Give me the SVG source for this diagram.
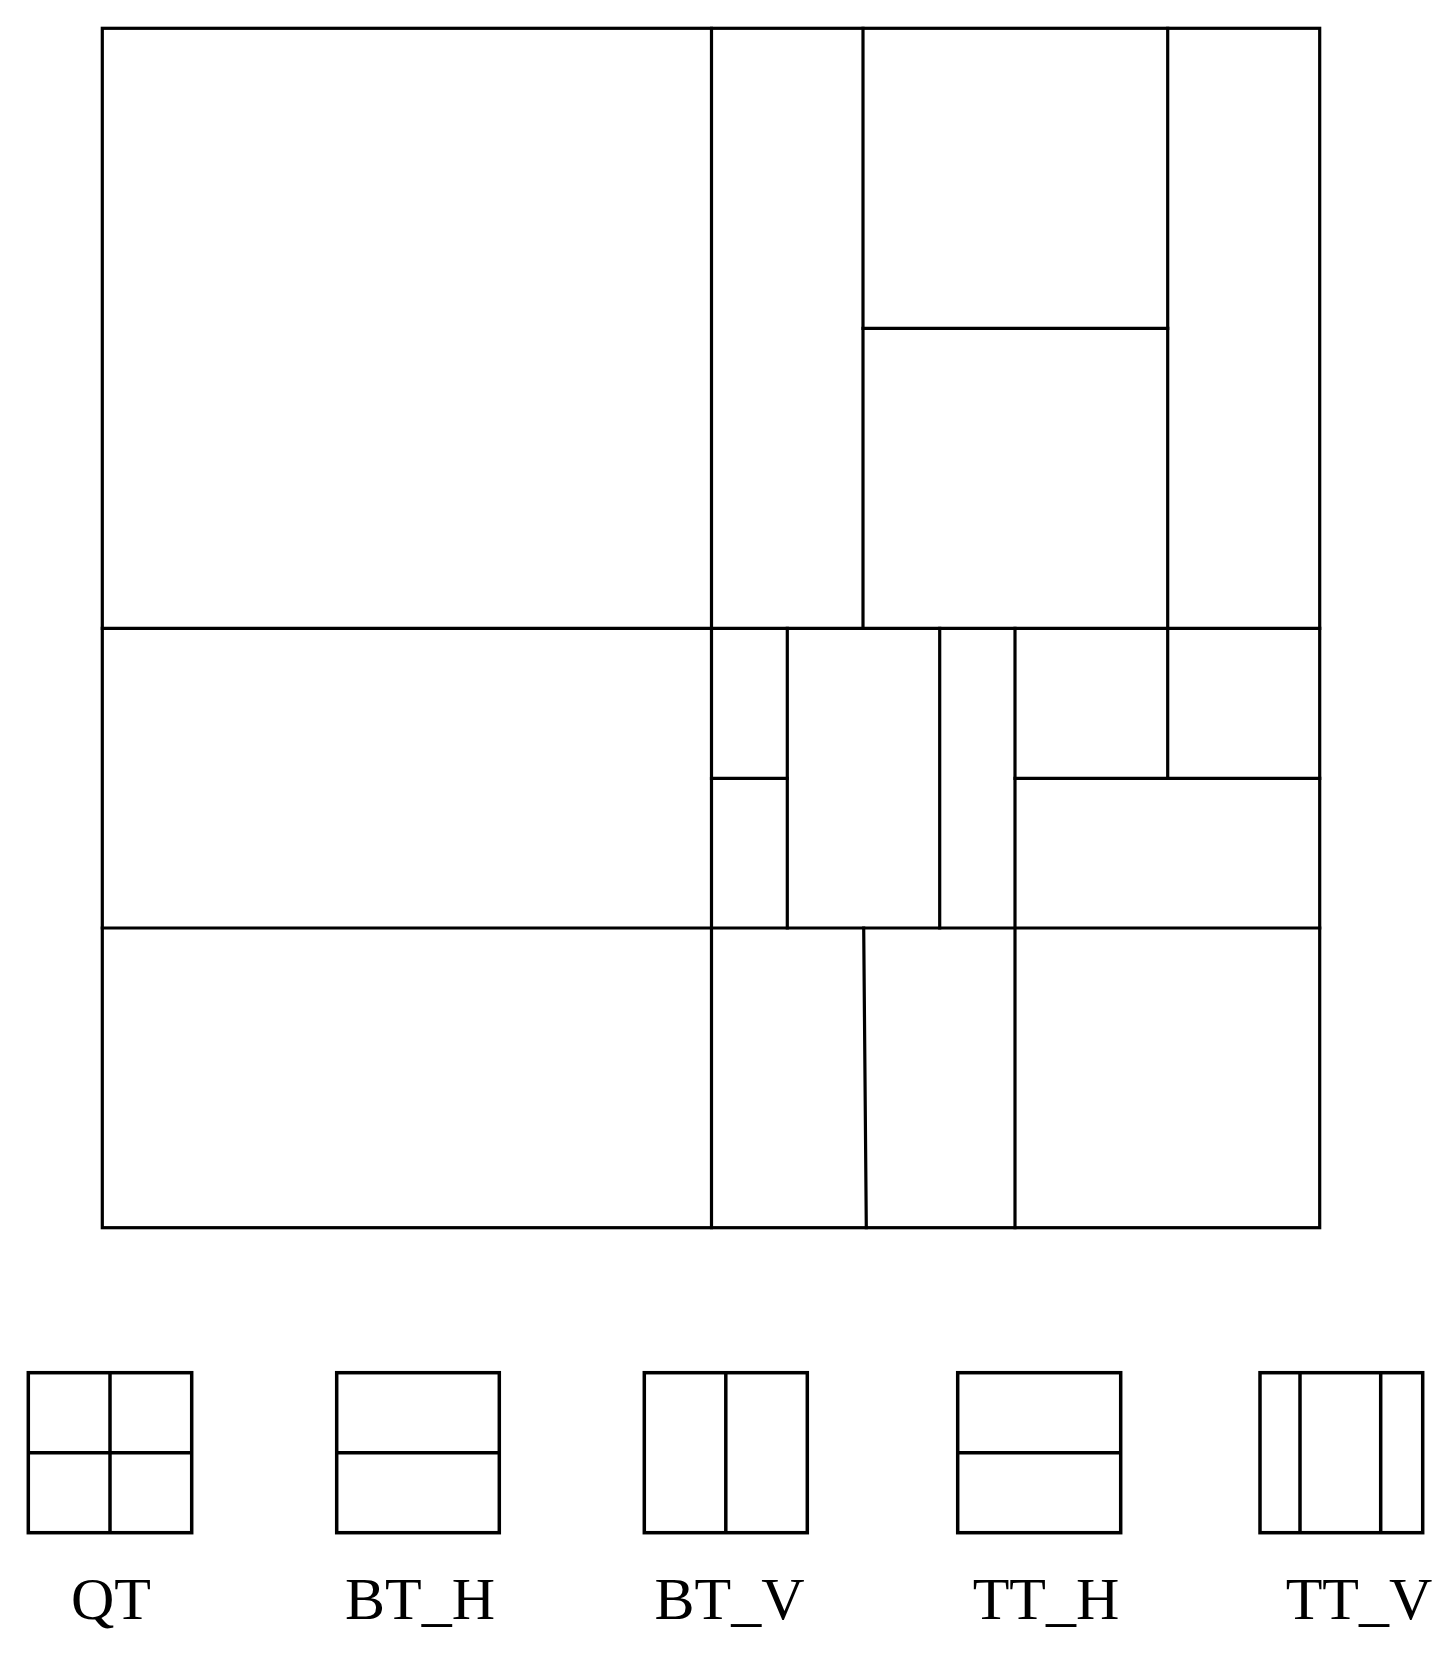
<svg xmlns="http://www.w3.org/2000/svg" width="1453" height="1660" viewBox="0 0 1453 1660">
<style>
.ln{stroke:#000;stroke-width:3.2;fill:none;stroke-linecap:square}
.bx{stroke:#000;stroke-width:3.5;fill:none}
.lbl{font-family:"Liberation Serif","Times New Roman",Times,serif;font-size:60px;fill:#000;text-anchor:middle}
</style>
<rect width="1453" height="1660" fill="#fff"/>
<g id="partition">
<rect class="ln" x="102.3" y="28.3" width="1217.4" height="1199.4"/>
<line class="ln" x1="711.5" y1="28.3" x2="711.5" y2="1227.7"/>
<line class="ln" x1="102.3" y1="628.3" x2="1319.7" y2="628.3"/>
<line class="ln" x1="102.3" y1="928" x2="1319.7" y2="928"/>
<line class="ln" x1="863" y1="28.3" x2="863" y2="628.3"/>
<line class="ln" x1="863" y1="328.3" x2="1167.7" y2="328.3"/>
<line class="ln" x1="1167.7" y1="28.3" x2="1167.7" y2="778.3"/>
<line class="ln" x1="1015" y1="778.3" x2="1319.7" y2="778.3"/>
<line class="ln" x1="711.5" y1="778.3" x2="787.3" y2="778.3"/>
<line class="ln" x1="787.3" y1="628.3" x2="787.3" y2="928"/>
<line class="ln" x1="939.7" y1="628.3" x2="939.7" y2="928"/>
<line class="ln" x1="1015" y1="628.3" x2="1015" y2="1227.7"/>
<line class="ln" x1="863.7" y1="928" x2="866.3" y2="1227.7"/>
</g>
<g id="qt">
<rect class="bx" x="28.3" y="1372.7" width="163.4" height="160"/>
<line class="bx" x1="110" y1="1372.7" x2="110" y2="1532.7"/>
<line class="bx" x1="28.3" y1="1452.7" x2="191.7" y2="1452.7"/>
<text class="lbl" x="111" y="1619">QT</text>
</g>
<g id="bt_h">
<rect class="bx" x="336.7" y="1372.7" width="162.6" height="160"/>
<line class="bx" x1="336.7" y1="1452.7" x2="499.3" y2="1452.7"/>
<text class="lbl" x="420" y="1619">BT_H</text>
</g>
<g id="bt_v">
<rect class="bx" x="644.3" y="1372.7" width="163" height="160"/>
<line class="bx" x1="725.8" y1="1372.7" x2="725.8" y2="1532.7"/>
<text class="lbl" x="729.6" y="1619">BT_V</text>
</g>
<g id="tt_h">
<rect class="bx" x="957.7" y="1372.7" width="163" height="160"/>
<line class="bx" x1="957.7" y1="1452.7" x2="1120.7" y2="1452.7"/>
<text class="lbl" x="1046" y="1619">TT_H</text>
</g>
<g id="tt_v">
<rect class="bx" x="1260" y="1372.7" width="162.7" height="160"/>
<line class="bx" x1="1300" y1="1372.7" x2="1300" y2="1532.7"/>
<line class="bx" x1="1380.7" y1="1372.7" x2="1380.7" y2="1532.7"/>
<text class="lbl" x="1359" y="1619">TT_V</text>
</g>
</svg>
